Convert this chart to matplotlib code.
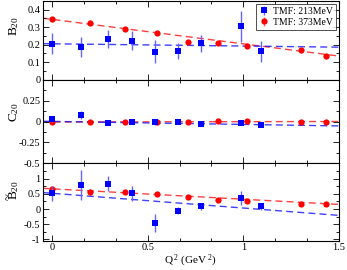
import matplotlib
matplotlib.use("Agg")
import matplotlib.pyplot as plt
from matplotlib.ticker import MultipleLocator
import numpy as np

plt.rcParams['font.family'] = ['Liberation Serif', 'DejaVu Serif']
plt.rcParams['mathtext.fontset'] = 'custom'
plt.rcParams['mathtext.rm'] = 'Liberation Serif'
plt.rcParams['mathtext.it'] = 'Liberation Serif:italic'

# Data
q2_213 = [0.0, 0.15, 0.29, 0.42, 0.54, 0.66, 0.78, 0.99, 1.09]
q2_373 = [0.0, 0.196, 0.38, 0.55, 0.71, 0.87, 1.02, 1.30, 1.43]

b20_213 = [0.205, 0.187, 0.234, 0.222, 0.160, 0.162, 0.207, 0.305, 0.164]
b20_213_err = [0.060, 0.060, 0.050, 0.055, 0.065, 0.045, 0.050, 0.090, 0.060]
b20_373 = [0.346, 0.325, 0.292, 0.267, 0.216, 0.210, 0.191, 0.168, 0.135]
b20_373_err = [0.015, 0.015, 0.012, 0.012, 0.012, 0.012, 0.012, 0.014, 0.014]

c20_213 = [0.030, 0.074, -0.020, -0.010, -0.010, 0.000, -0.027, -0.015, -0.042]
c20_213_err = [0.030, 0.050, 0.020, 0.020, 0.030, 0.020, 0.020, 0.030, 0.020]
c20_373 = [-0.010, -0.005, -0.010, -0.010, 0.000, 0.005, 0.005, 0.000, 0.000]
c20_373_err = [0.010, 0.010, 0.010, 0.010, 0.010, 0.010, 0.010, 0.010, 0.010]

bt20_213 = [0.52, 0.79, 0.83, 0.52, -0.46, -0.06, 0.09, 0.36, 0.09]
bt20_213_err = [0.25, 0.50, 0.25, 0.25, 0.28, 0.12, 0.12, 0.22, 0.12]
bt20_373 = [0.65, 0.57, 0.57, 0.49, 0.38, 0.30, 0.27, 0.18, 0.15]
bt20_373_err = [0.10, 0.10, 0.06, 0.06, 0.06, 0.06, 0.06, 0.06, 0.06]

# Linear fits (endpoints at x=-0.05 and x=1.5)
fit_x = [-0.05, 1.5]
fit_b20_213 = [0.206, 0.186]
fit_b20_373 = [0.352, 0.135]
fit_c20_213 = [0.003, -0.053]
fit_c20_373 = [-0.006, 0.000]
fit_bt20_213 = [0.54, -0.21]
fit_bt20_373 = [0.68, 0.15]

labels = ['TMF: 213MeV', 'TMF: 373MeV']
blue = '#0000ff'
red = '#ff0000'

fig = plt.figure(figsize=(3.47, 2.70), dpi=100)
L, R = 42.5 / 347, 339 / 347
def ax_at(top, bot):
    return fig.add_axes([L, 1 - bot / 270, R - L, (bot - top) / 270])

axes = [ax_at(1, 79.7), ax_at(79.7, 163.3), ax_at(163.3, 241)]

panels = [
    (b20_213, b20_213_err, b20_373, b20_373_err, fit_b20_213, fit_b20_373,
     (0, 0.45), [0, 0.1, 0.2, 0.3, 0.4], 0.05, r'$\mathrm{B}_{20}$', 0.68),
    (c20_213, c20_213_err, c20_373, c20_373_err, fit_c20_213, fit_c20_373,
     (-0.5, 0.5), [-0.5, -0.25, 0, 0.25], 0.125, r'$\mathrm{C}_{20}$', 0.61),
    (bt20_213, bt20_213_err, bt20_373, bt20_373_err, fit_bt20_213, fit_bt20_373,
     (-1.05, 1.5), [-1, -0.5, 0, 0.5, 1], 0.25, r'$\mathrm{B}_{20}$', 0.66),
]

fs = 7.5
for i, (ax, p) in enumerate(zip(axes, panels)):
    y1, e1, y2, e2, f1, f2, ylim, yt, ymin, ylab, ly = p
    ax.plot(fit_x, f2, '--', color=red, lw=1.0, alpha=0.75, dashes=(5, 3), zorder=1)
    ax.plot(fit_x, f1, '--', color=blue, lw=1.0, alpha=0.75, dashes=(5, 3), zorder=1)
    ax.errorbar(q2_373, y2, yerr=e2, fmt='o', color=red, ms=4.5, mew=0,
                ecolor=(1, 0.4, 0.4), elinewidth=1.0, capsize=3, capthick=1.0,
                label=labels[1], zorder=3)
    ax.errorbar(q2_213, y1, yerr=e1, fmt='s', color=blue, ms=4.5, mew=0,
                ecolor=(0.4, 0.4, 1.0), elinewidth=1.0, capsize=3, capthick=1.0,
                label=labels[0], zorder=4)
    ax.set_xlim(-0.05, 1.5)
    ax.set_ylim(*ylim)
    ax.set_yticks(yt)
    ax.set_yticklabels([f'{v:g}' for v in yt], fontsize=fs)
    ax.yaxis.set_minor_locator(MultipleLocator(ymin))
    ax.xaxis.set_major_locator(MultipleLocator(0.5))
    ax.xaxis.set_minor_locator(MultipleLocator(0.5 / 3))
    ax.tick_params(which='both', direction='in', top=True, right=True, width=0.6,
                   pad=1.5, labelsize=fs)
    ax.tick_params(which='major', length=4)
    ax.tick_params(which='minor', length=2)
    for s in ax.spines.values():
        s.set_linewidth(0.8)
    ax.set_ylabel(ylab, fontsize=9.5, labelpad=2)
    ax.yaxis.set_label_coords(-0.074, ly)
    if i < 2:
        ax.tick_params(labelbottom=False)
    else:
        ax.set_xticks([0, 0.5, 1, 1.5])
        ax.set_xticklabels(['0', '0.5', '1', '1.5'], fontsize=fs)
        ax.set_xlabel(r'Q$^{\ 2}$ (GeV$^{\ 2}$)', fontsize=fs + 0.5, labelpad=0.5)

# tilde over the B of the bottom label (rotated, so it sits left of the B)
fig.text(8.5 / 347, 1 - 197 / 270, '~', rotation=90, fontsize=9,
         ha='center', va='center', color='black', zorder=10)

h, l = axes[0].get_legend_handles_labels()
leg = axes[0].legend(h[::-1], l[::-1], loc='upper right', fontsize=7, frameon=True,
                     fancybox=False, edgecolor='black', borderpad=0.3, handlelength=1.0,
                     handletextpad=0.5, labelspacing=0.2, borderaxespad=0.3)
leg.get_frame().set_linewidth(0.6)

fig.savefig('out.png', dpi=100)
